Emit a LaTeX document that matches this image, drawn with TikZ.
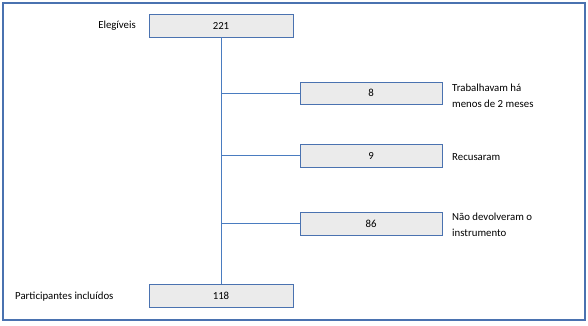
\documentclass[tikz,border=0pt]{standalone}
\usepackage{fontspec}
\setmainfont{Carlito}
\begin{document}
\begin{tikzpicture}[x=1pt,y=-1pt,
  numbox/.style={draw=frameblue, fill=boxgray, line width=0.8pt, minimum height=23pt, inner sep=0pt, font=\fontsize{10.8}{12}\selectfont},
  lbl/.style={font=\fontsize{10.8}{15.5}\selectfont, inner sep=0pt, align=left},
  conn/.style={draw=lineblue, line width=1pt}]
\definecolor{frameblue}{HTML}{4A72B0}
\definecolor{boxgray}{HTML}{EBEBEB}
\definecolor{lineblue}{HTML}{4A7CC0}
\useasboundingbox (0,0) rectangle (588,325);
\draw[draw=frameblue, line width=1.3pt] (3,3) rectangle (585,320);
\node[numbox, minimum width=144pt] (a) at (221,25.5) {221};
\node[numbox, minimum width=142pt, minimum height=22pt] (b) at (371,93) {8};
\node[numbox, minimum width=142pt] (c) at (371,155.5) {9};
\node[numbox, minimum width=142pt] (d) at (371,223.5) {86};
\node[numbox, minimum width=144pt] (e) at (221,295.5) {118};
\coordinate (jb) at (221,93);
\coordinate (jc) at (221,155.5);
\coordinate (jd) at (221,223.5);
\draw[conn] (a.south) -- (e.north);
\draw[conn] (jb) -- (b.west);
\draw[conn] (jc) -- (c.west);
\draw[conn] (jd) -- (d.west);
\node[lbl, anchor=east] (la) at (136,26) {Elegíveis};
\node[lbl, anchor=west] (lb) at (452,96) {Trabalhavam há\\menos de 2 meses};
\node[lbl, anchor=west] (lc) at (452,157) {Recusaram};
\node[lbl, anchor=west] (ld) at (452,225) {Não devolveram o\\instrumento};
\node[lbl, anchor=west] (le) at (15,297) {Participantes incluídos};
\end{tikzpicture}
\end{document}
